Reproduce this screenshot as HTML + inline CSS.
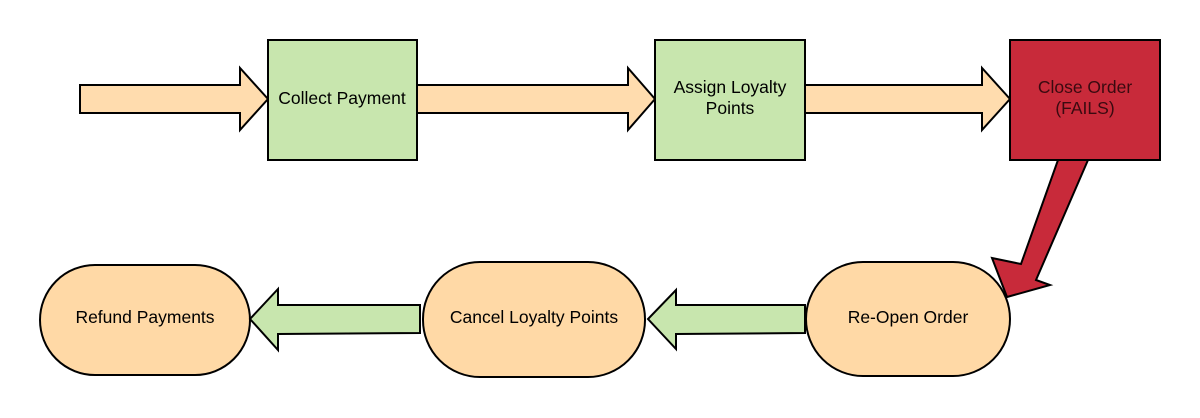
<!DOCTYPE html>
<html><head><meta charset="utf-8"><style>html,body{margin:0;padding:0;background:#fff}svg{display:block}text{font-family:"Liberation Sans",sans-serif;font-size:17.5px;text-anchor:middle}</style></head>
<body>
<svg width="1200" height="418" viewBox="0 0 1200 418" xmlns="http://www.w3.org/2000/svg">
<g stroke="#000" stroke-width="2" stroke-linejoin="miter">
<polygon fill="#ffdcae" points="80,85 240,85 240,68 268,99 240,130 240,113 80,113"/>
<polygon fill="#ffdcae" points="417,85 628,85 628,68 655,99 628,130 628,113 417,113"/>
<polygon fill="#ffdcae" points="805,85 982,85 982,68 1010,99 982,130 982,113 805,113"/>
<rect x="268" y="40" width="149" height="120" fill="#c8e6ae"/>
<rect x="655" y="40" width="150" height="120" fill="#c8e6ae"/>
<rect x="1010" y="40" width="150" height="120" fill="#c82a3a"/>
<polygon fill="#c82a3a" points="1058,160 1088,160 1036,280 1050,285 1007,297 992,258 1021,264"/>
<rect x="40" y="265" width="210" height="110" rx="55" fill="#ffd9a6"/>
<rect x="423" y="262" width="222" height="115" rx="57" fill="#ffd9a6"/>
<rect x="806" y="262" width="204" height="114" rx="57" fill="#ffd9a6"/>
<polygon fill="#c8e6ae" points="420,305 278,305 278,289 250,319 278,350 278,334 420,333"/>
<polygon fill="#c8e6ae" points="805,305 676,305 676,290 648,319 676,349 676,334 805,333"/>
</g>
<text x="342" y="104">Collect Payment</text>
<text x="730" y="93">Assign Loyalty</text>
<text x="730" y="114">Points</text>
<text x="1085" y="93" fill="#3a0a10">Close Order</text>
<text x="1085" y="114" fill="#3a0a10">(FAILS)</text>
<text x="145" y="323">Refund Payments</text>
<text x="534" y="323">Cancel Loyalty Points</text>
<text x="908" y="323">Re-Open Order</text>
</svg>
</body></html>
